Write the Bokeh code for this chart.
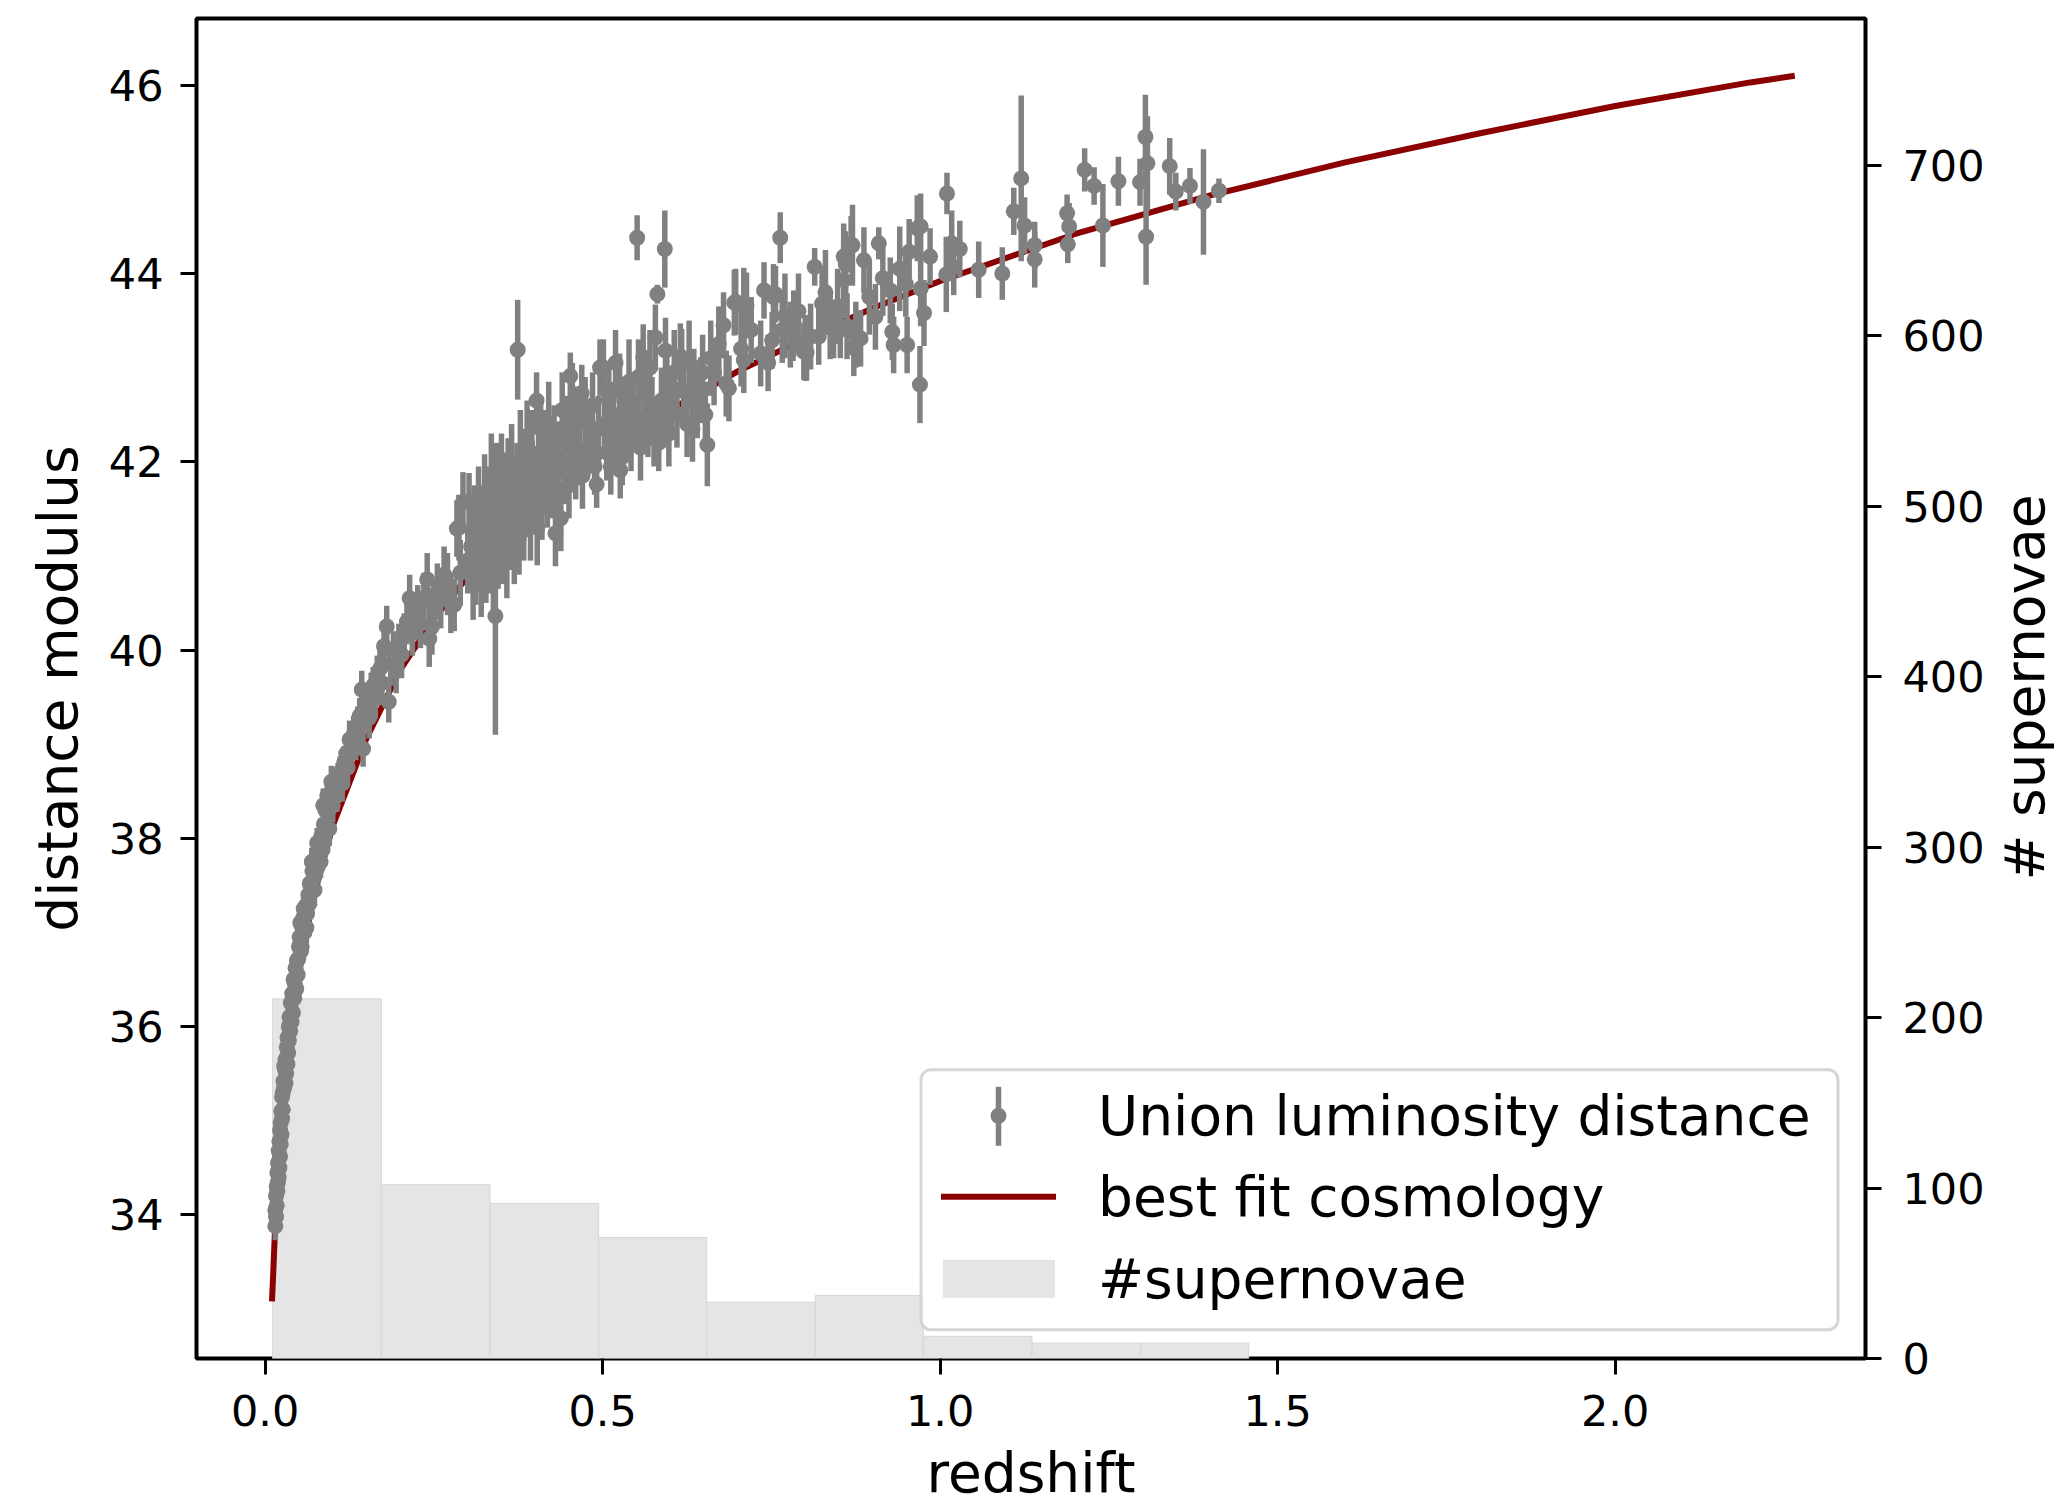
import math
from bokeh.plotting import figure
from bokeh.layouts import row
from bokeh.models import (Range1d, LinearAxis, FixedTicker, BoxAnnotation, Label,
                          NumeralTickFormatter, ColumnDataSource)
from bokeh.embed import file_html
from bokeh.resources import INLINE

# ---------------- data ----------------
# low-redshift chain (z < 0.1)
z_a1 = [0.015,0.015,0.016,0.016,0.017,0.018,0.018,0.019,0.020,0.020,
        0.021,0.022,0.022,0.023,0.024,0.025,0.025,0.026,0.027,0.028,
        0.029,0.030,0.031,0.032,0.033,0.034,0.035,0.036,0.037,0.038,
        0.040,0.041,0.042,0.044,0.045,0.047,0.048,0.050,0.051,0.053,
        0.055,0.056,0.058,0.060,0.062,0.064,0.066,0.068,0.070,0.072,
        0.075,0.078,0.080,0.083,0.085,0.087,0.089,0.091,0.094,0.097,
        0.100]
mu_a1 = [33.88,34.05,34.20,33.98,34.30,34.45,34.25,34.55,34.68,34.40,
         34.78,34.90,34.62,34.98,35.10,35.02,35.25,35.30,35.42,35.35,
         35.55,35.65,35.50,35.78,35.88,35.72,36.00,36.10,35.95,36.25,
         36.35,36.15,36.50,36.45,36.62,36.70,36.55,36.85,36.95,36.80,
         37.05,37.15,37.00,37.28,37.20,37.40,37.52,37.45,37.65,37.58,
         37.78,37.70,37.92,38.02,37.88,38.15,38.30,38.08,38.30,38.42,
         38.35]
err_a1 = [0.15,0.14,0.15,0.13,0.14,0.15,0.15,0.14,0.15,0.16,
          0.14,0.15,0.13,0.14,0.15,0.14,0.15,0.13,0.14,0.16,
          0.14,0.15,0.13,0.15,0.14,0.14,0.15,0.15,0.13,0.14,
          0.15,0.14,0.16,0.15,0.14,0.15,0.16,0.15,0.14,0.16,
          0.15,0.14,0.17,0.16,0.15,0.16,0.15,0.17,0.16,0.15,
          0.16,0.17,0.16,0.15,0.18,0.16,0.17,0.18,0.16,0.17,
          0.18]
z_a2 = [0.017,0.019,0.021,0.023,0.024,0.026,0.028,0.030,0.033,0.035,
        0.039,0.043,0.046,0.049,0.052,0.054,0.057,0.061,0.065,0.069,
        0.073,0.077,0.082,0.086,0.092,0.095,0.098]
mu_a2 = [34.10,34.35,34.50,34.75,34.85,35.12,35.58,35.40,35.60,35.85,
         36.05,36.30,36.40,36.72,37.10,36.85,37.25,37.05,37.30,37.75,
         37.45,37.95,37.75,38.35,38.45,38.10,38.60]
err_a2 = [0.15,0.14,0.16,0.15,0.14,0.15,0.16,0.14,0.15,0.15,
          0.16,0.15,0.14,0.16,0.15,0.16,0.15,0.17,0.16,0.15,
          0.17,0.16,0.17,0.18,0.17,0.18,0.17]

# 0.1 < z < 0.28
z_b = [0.103,0.106,0.108,0.111,0.114,0.117,0.120,0.122,0.125,0.128,
       0.131,0.134,0.137,0.140,0.143,0.145,0.148,0.151,0.154,0.157,
       0.160,0.163,0.166,0.170,0.173,0.176,0.180,0.183,0.186,0.190,
       0.194,0.198,0.202,0.206,0.210,0.214,0.218,0.222,0.226,0.230,
       0.235,0.240,0.243,0.247,0.250,0.255,0.260,0.265,0.270,0.275]
mu_b = [38.55,38.45,38.62,38.70,38.58,38.80,38.90,38.75,39.05,38.95,
        39.10,39.02,39.20,39.30,39.58,38.95,39.35,39.45,39.28,39.55,
        39.62,39.48,39.72,39.80,39.65,40.04,40.25,39.45,39.85,39.98,
        39.78,40.05,39.95,40.15,40.30,40.55,40.20,40.35,40.42,40.28,
        40.55,40.75,40.12,40.25,40.45,40.62,40.55,40.80,40.70,40.50]
err_b = [0.18,0.17,0.18,0.17,0.19,0.18,0.18,0.19,0.20,0.18,
         0.20,0.19,0.20,0.19,0.20,0.19,0.21,0.20,0.22,0.21,
         0.20,0.21,0.22,0.21,0.23,0.21,0.22,0.22,0.23,0.22,
         0.24,0.23,0.25,0.24,0.24,0.25,0.26,0.25,0.27,0.26,
         0.27,0.28,0.30,0.30,0.28,0.30,0.32,0.30,0.33,0.32]

# 0.28 < z < 0.5 (dense cluster)
z_c = [0.280,0.284,0.287,0.289,0.293,0.300,0.302,0.305,0.308,0.310,
       0.312,0.314,0.316,0.318,0.320,0.322,0.325,0.327,0.330,0.332,
       0.334,0.335,0.338,0.340,0.341,0.343,0.345,0.348,0.350,0.352,
       0.355,0.358,0.360,0.362,0.365,0.368,0.369,0.370,0.373,0.374,
       0.376,0.378,0.380,0.383,0.386,0.388,0.390,0.393,0.395,0.398,
       0.400,0.402,0.403,0.405,0.408,0.410,0.413,0.415,0.418,0.420,
       0.423,0.425,0.428,0.430,0.432,0.435,0.438,0.440,0.443,0.447,
       0.450,0.452,0.453,0.455,0.457,0.460,0.463,0.466,0.469,0.470,
       0.474,0.478,0.482,0.485,0.488,0.491,0.494,0.496]
mu_c = [40.48,41.29,41.30,40.82,41.57,40.95,41.58,41.10,40.70,41.30,
        40.90,41.17,41.45,41.00,40.75,41.20,41.60,40.95,41.35,41.10,
        41.46,41.75,40.85,41.25,40.36,41.55,41.05,41.40,41.80,41.15,
        41.50,40.95,41.70,41.30,41.90,41.63,41.10,41.45,41.75,43.19,
        41.20,42.00,41.55,41.35,41.85,42.20,41.60,41.40,42.05,41.77,
        41.70,42.65,41.30,41.95,42.35,41.55,41.85,42.15,41.65,42.40,
        41.95,41.80,42.25,41.24,41.60,42.05,41.40,42.55,41.90,42.30,
        41.75,42.91,42.48,42.60,42.13,41.95,42.40,42.05,42.73,41.85,
        42.50,42.15,42.27,42.60,41.95,41.76,42.35,43.00]
err_c = [0.28,0.30,0.35,0.35,0.32,0.35,0.30,0.40,0.38,0.45,
         0.42,0.40,0.50,0.38,0.40,0.55,0.48,0.45,0.60,0.50,
         0.45,0.55,0.45,0.50,1.26,0.65,0.40,0.55,0.50,0.45,
         0.60,0.40,0.55,0.45,0.50,0.45,0.40,0.50,0.45,0.53,
         0.40,0.55,0.45,0.40,0.50,0.45,0.40,0.45,0.50,0.40,
         0.45,0.30,0.40,0.40,0.35,0.38,0.42,0.40,0.35,0.45,
         0.40,0.40,0.35,0.35,0.40,0.38,0.35,0.40,0.35,0.40,
         0.35,0.25,0.30,0.45,0.35,0.35,0.40,0.30,0.30,0.35,
         0.40,0.30,0.35,0.35,0.30,0.25,0.35,0.30]

# 0.5 < z < 0.66
z_d = [0.501,0.503,0.506,0.509,0.512,0.514,0.516,0.519,0.522,0.525,
       0.526,0.529,0.532,0.536,0.539,0.542,0.545,0.548,0.551,0.553,
       0.556,0.560,0.561,0.564,0.567,0.570,0.573,0.576,0.578,0.581,
       0.583,0.587,0.590,0.592,0.593,0.595,0.598,0.602,0.606,0.610,
       0.615,0.617,0.620,0.625,0.628,0.633,0.635,0.637,0.640,0.645,
       0.648,0.652,0.655,0.660]
mu_d = [43.00,42.40,42.10,42.65,41.95,42.23,42.50,43.05,42.25,42.75,
        41.91,42.05,42.55,42.37,42.85,42.20,42.60,42.40,44.38,42.90,
        42.15,43.11,42.45,42.70,42.35,43.00,42.55,42.25,43.32,43.78,
        42.20,42.65,42.45,44.26,43.18,42.85,42.30,42.60,42.95,42.50,
        43.12,43.06,42.75,42.40,43.05,42.35,42.80,42.73,42.60,42.76,
        42.95,42.50,42.18,43.10]
err_d = [0.30,0.35,0.30,0.40,0.30,0.30,0.35,0.35,0.30,0.40,
         0.30,0.30,0.35,0.30,0.45,0.30,0.35,0.30,0.24,0.40,
         0.35,0.35,0.30,0.35,0.30,0.40,0.35,0.30,0.35,0.10,
         0.30,0.35,0.30,0.41,0.35,0.40,0.35,0.30,0.45,0.35,
         0.35,0.35,0.40,0.35,0.45,0.35,0.40,0.35,0.35,0.35,
         0.40,0.35,0.44,0.40]

# 0.66 < z < 0.98
z_e = [0.665,0.672,0.679,0.683,0.687,0.695,0.697,0.705,0.709,0.709,
       0.713,0.720,0.734,0.739,0.745,0.751,0.753,0.756,0.763,0.766,
       0.770,0.778,0.782,0.783,0.790,0.798,0.800,0.802,0.808,0.814,
       0.820,0.825,0.830,0.837,0.842,0.848,0.852,0.857,0.857,0.860,
       0.862,0.868,0.870,0.872,0.875,0.882,0.887,0.895,0.904,0.909,
       0.915,0.926,0.929,0.931,0.940,0.949,0.951,0.954,0.966,0.970,
       0.971,0.971,0.976]
mu_e = [42.95,43.25,43.45,42.83,42.78,43.69,43.70,43.20,43.66,43.08,
        43.66,43.40,43.15,43.82,43.05,43.29,43.75,43.78,44.38,43.40,
        43.55,43.35,43.37,43.47,43.60,43.17,43.21,43.16,43.33,44.07,
        43.33,43.68,43.80,43.44,43.40,43.65,43.40,44.18,43.93,44.10,
        43.44,44.31,44.30,43.21,43.35,43.31,44.14,43.75,43.54,44.32,
        43.95,43.82,43.38,43.24,44.05,43.89,43.24,44.23,44.48,42.82,
        44.50,43.84,43.58]
err_e = [0.35,0.40,0.35,0.35,0.35,0.35,0.35,0.40,0.40,0.35,
         0.35,0.35,0.35,0.30,0.30,0.30,0.35,0.30,0.27,0.35,
         0.45,0.35,0.30,0.35,0.40,0.30,0.35,0.30,0.35,0.20,
         0.30,0.40,0.45,0.35,0.30,0.40,0.30,0.35,0.40,0.35,
         0.35,0.30,0.43,0.30,0.35,0.30,0.35,0.40,0.35,0.17,
         0.40,0.35,0.30,0.30,0.45,0.35,0.30,0.35,0.35,0.41,
         0.35,0.40,0.35]

# z > 0.98
z_f = [0.985,1.009,1.010,1.017,1.020,1.029,1.057,1.092,1.109,1.120,
       1.125,1.140,1.140,1.188,1.191,1.189,1.214,1.228,1.241,1.264,
       1.296,1.304,1.307,1.305,1.340,1.349,1.370,1.390,1.413]
mu_f = [44.18,43.99,44.85,44.32,44.07,44.26,44.04,44.00,44.66,45.01,
        44.51,44.30,44.15,44.64,44.50,44.31,45.10,44.93,44.51,44.98,
        44.97,45.45,45.17,44.39,45.14,44.87,44.93,44.76,44.88]
err_f = [0.30,0.40,0.22,0.35,0.30,0.30,0.30,0.28,0.25,0.88,
         0.30,0.25,0.30,0.20,0.25,0.20,0.23,0.20,0.44,0.26,
         0.25,0.45,0.50,0.51,0.30,0.20,0.19,0.56,0.13]

# best-fit cosmology curve
z_fit = [0.010,0.012,0.015,0.020,0.030,0.040,0.050,0.070,0.100,0.150,
         0.200,0.250,0.300,0.400,0.500,0.600,0.700,0.800,0.900,1.000,
         1.200,1.400,1.600,1.800,2.000,2.200,2.266]
mu_fit = [33.08,33.40,33.93,34.55,35.44,36.08,36.58,37.33,38.13,39.06,
          39.79,40.33,40.78,41.52,42.08,42.55,42.96,43.31,43.63,43.92,
          44.42,44.83,45.18,45.49,45.78,46.03,46.10]

# histogram of supernovae per redshift bin
hist_edges = [0.011, 0.172, 0.333, 0.494, 0.654, 0.815, 0.975, 1.136, 1.297, 1.457]
hist_counts = [211, 102, 91, 71, 33, 37, 13, 9, 9]

x_ticks = [0.0, 0.5, 1.0, 1.5, 2.0]
y_ticks = [34, 36, 38, 40, 42, 44, 46]
y2_ticks = [0, 100, 200, 300, 400, 500, 600, 700]

# ---------------- assemble ----------------
def group(z, mu, err):
    n = min(len(z), len(mu), len(err))
    return z[:n], mu[:n], err[:n]

zs, mus, errs = [], [], []
for g in [(z_a1, mu_a1, err_a1), (z_a2, mu_a2, err_a2), (z_b, mu_b, err_b),
          (z_c, mu_c, err_c), (z_d, mu_d, err_d), (z_e, mu_e, err_e), (z_f, mu_f, err_f)]:
    a, b, c = group(*g)
    zs += a; mus += b; errs += c

src = ColumnDataSource(dict(z=zs, mu=mus,
                            lo=[m - e for m, e in zip(mus, errs)],
                            hi=[m + e for m, e in zip(mus, errs)]))

H = 1507
W_MAIN = 1994          # main panel; the right-hand title strip fills the rest up to 2054
W_SIDE = 2054 - W_MAIN
FL, FR, FT, FB = 196, W_MAIN - 1865, 18, 148
FONT = "DejaVu Sans"
GRAY = "#808080"
RED = "#8b0000"

p = figure(width=W_MAIN, height=H, output_backend="svg", toolbar_location=None,
           x_range=Range1d(-0.1018, 2.3708), y_range=Range1d(32.473, 46.709),
           min_border_left=FL, min_border_right=FR, min_border_top=FT, min_border_bottom=FB,
           x_axis_label="redshift", y_axis_label="distance modulus")
p.extra_y_ranges = {"hist": Range1d(0, 786.2)}
p.grid.visible = False
p.outline_line_color = "black"
p.outline_line_width = 4
p.background_fill_color = "white"
p.border_fill_color = "white"

p.quad(left=hist_edges[:-1], right=hist_edges[1:], bottom=0, top=hist_counts,
       y_range_name="hist", fill_color="#e5e5e5", line_color="#d6d6d6", line_width=1)
p.line(z_fit, mu_fit, line_color=RED, line_width=6)
p.segment(x0="z", y0="lo", x1="z", y1="hi", source=src, line_color=GRAY, line_width=5.5)
p.scatter("z", "mu", source=src, size=16, marker="circle", fill_color=GRAY, line_color=None)

ax2 = LinearAxis(y_range_name="hist")
p.add_layout(ax2, "right")


def style(ax):
    ax.axis_line_color = None
    ax.major_tick_line_color = "black"
    ax.major_tick_line_width = 3
    ax.major_tick_out = 16
    ax.major_tick_in = 0
    ax.minor_tick_line_color = None
    ax.major_label_text_font = FONT
    ax.major_label_text_font_size = "43px"
    ax.major_label_text_color = "black"
    ax.axis_label_text_font = FONT
    ax.axis_label_text_font_size = "55px"
    ax.axis_label_text_font_style = "normal"
    ax.axis_label_text_color = "black"


xa = p.xaxis[0]
ya = p.yaxis[0]
for ax in (xa, ya, ax2):
    style(ax)
xa.ticker = FixedTicker(ticks=x_ticks)
xa.formatter = NumeralTickFormatter(format="0.0")
xa.major_label_standoff = 20
xa.axis_label_standoff = 12
ya.ticker = FixedTicker(ticks=y_ticks)
ya.major_label_standoff = 17
ya.axis_label_standoff = 16
ax2.ticker = FixedTicker(ticks=y2_ticks)
ax2.major_label_standoff = 21

# ---------------- legend (frame-relative screen units) ----------------
def sbox(l, r, b, t, **kw):
    return BoxAnnotation(left=l, right=r, bottom=b, top=t,
                         left_units="screen", right_units="screen",
                         bottom_units="screen", top_units="screen", **kw)

p.add_layout(sbox(724.5, 1641.5, 28.7, 288.7, fill_color="white", fill_alpha=0.8,
                  line_color="#cccccc", line_alpha=0.8, line_width=3, border_radius=10))
p.add_layout(sbox(799.25, 804.75, 212.7, 271.7, fill_color=GRAY, fill_alpha=1.0,
                  line_color=None))
p.add_layout(sbox(794.0, 810.0, 234.7, 250.7, fill_color=GRAY, fill_alpha=1.0,
                  line_color=None, border_radius=8))
p.add_layout(sbox(744.5, 859.5, 158.7, 164.7, fill_color=RED, fill_alpha=1.0,
                  line_color=None))
p.add_layout(sbox(746.5, 858.5, 60.7, 98.7, fill_color="#e5e5e5", fill_alpha=1.0,
                  line_color=None))
for txt, yy in [("Union luminosity distance", 242.7), ("best fit cosmology", 161.7),
                ("#supernovae", 79.7)]:
    p.add_layout(Label(x=901.5, y=yy, x_units="screen", y_units="screen", text=txt,
                       text_font=FONT, text_font_size="55px", text_baseline="middle",
                       text_align="left", text_color="black"))

# ---------------- right-hand axis title strip (reads bottom to top) ----------------
# the row layout aligns this strip's frame with the main frame (canvas y 18 .. 1359)
ps = figure(width=W_SIDE, height=H, output_backend="svg", toolbar_location=None,
            x_range=Range1d(0, 1), y_range=Range1d(0, 1),
            x_axis_location=None, y_axis_location=None,
            min_border_left=0, min_border_right=0, min_border_top=0, min_border_bottom=0)
ps.grid.visible = False
ps.outline_line_color = None
ps.background_fill_color = "white"
ps.border_fill_color = "white"
ps.add_layout(Label(x=2024 - W_MAIN, y=(H - FB) - 688, x_units="screen", y_units="screen",
                    text="# supernovae", angle=math.pi / 2, text_font=FONT,
                    text_font_size="55px", text_align="center", text_baseline="middle",
                    text_color="black"))

layout = row(p, ps)
open("out.html", "w").write(file_html(layout, INLINE))
